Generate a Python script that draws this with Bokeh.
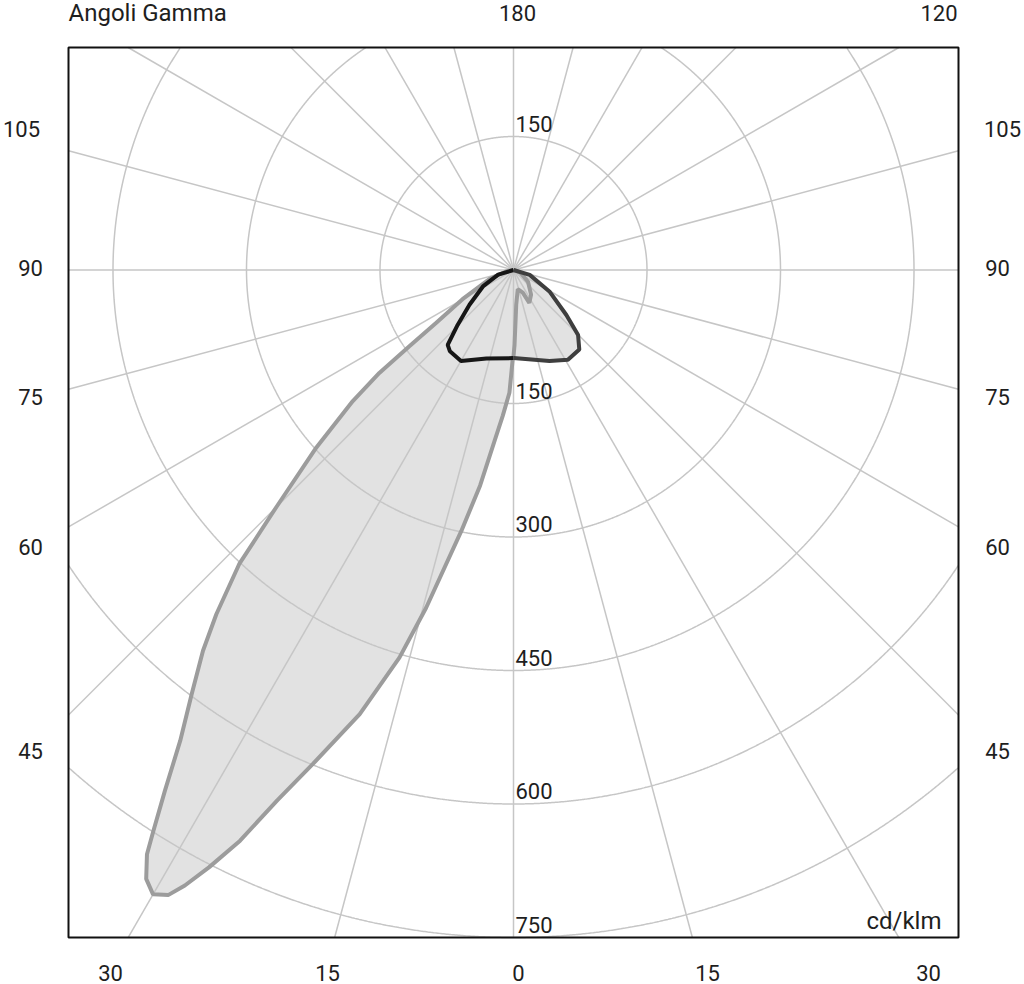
import numpy as np
from bokeh.plotting import figure
from bokeh.models import Label, Range1d
from bokeh.embed import file_html
from bokeh.resources import INLINE

# ---------------- data (gamma in degrees from nadir, intensity in cd/klm) ----------------
# grey plane, right half (gamma descending towards nadir)
gray_gamma_right = [90, 70, 51, 35.5, 25.7, 22.3, 12.6, 4.5, 0.8, 0]
gray_cd_right = [0, 8, 21, 34, 41, 27.5, 22, 39, 84, 97]
# grey plane, left half (gamma ascending from nadir)
gray_gamma_left = [0, 0.5, 1.9, 4.2, 6.3, 8.8, 11.3, 14.5, 16.4, 19.1, 22.1, 24.0, 25.6,
                   27.0, 28.1, 28.9, 30.0, 31.1, 32.1, 32.7, 33.8, 35.3, 37.2, 39.2, 40.8,
                   43.0, 45.0, 48.0, 50.8, 52.5, 53.8, 55.7, 60.2, 69.4, 80, 90]
gray_cd_left = [97, 100, 138, 164, 193, 245, 299, 392, 454, 528, 599, 652, 711,
                753, 784, 802, 810, 799, 775, 749, 704, 648, 598, 552, 511,
                452, 377, 298, 233, 190, 145, 105, 66, 29, 8, 0]

# black plane
black_gamma_right = [90, 73.3, 59.2, 49.6, 44.8, 39.6, 31.2, 21.6, 0]
black_cd_right = [0, 19, 47, 78, 103, 116, 118, 110, 99]
black_gamma_left = [0, 17, 30, 38, 41.3, 45.5, 51.7, 61.7, 73, 90]
black_cd_left = [99, 104, 118, 116, 112, 88, 63, 39, 18, 0]

# grid / ticks
circle_values = [150, 300, 450, 600, 750]
radial_step = 15
side_labels = ["105", "90", "75", "60", "45"]
bottom_labels = ["30", "15", "0", "15", "30"]
top_labels = ["180", "120"]
title_text = "Angoli Gamma"
unit_text = "cd/klm"

# ---------------- helpers ----------------
def polar_right(g, v):
    g = np.radians(np.asarray(g, float)); v = np.asarray(v, float)
    return v * np.sin(g), -v * np.cos(g)

def polar_left(g, v):
    g = np.radians(np.asarray(g, float)); v = np.asarray(v, float)
    return -v * np.sin(g), -v * np.cos(g)

W, H = 1024, 984
SCALE = 0.89           # px per cd/klm
CX, CY = 513.0, 269.5  # pixel position of the pole

def fx(px):
    return (px - CX) / SCALE

def fy(py):
    return (CY - py) / SCALE

# plotting box (in cd/klm units)
BL, BR, BB, BT = fx(68), fx(958), fy(937), fy(47)

p = figure(width=W, height=H, output_backend="svg", toolbar_location=None,
           x_range=Range1d(fx(0), fx(W)), y_range=Range1d(fy(H), fy(0)), min_border=0)
p.xaxis.visible = False
p.yaxis.visible = False
p.xgrid.visible = False
p.ygrid.visible = False
p.outline_line_color = None
p.background_fill_color = "white"
p.border_fill_color = "white"

FILL = "#e2e2e2"
GRID = "#c6c6c6"

# ---- fills ----
gxr, gyr = polar_right(gray_gamma_right, gray_cd_right)
gxl, gyl = polar_left(gray_gamma_left, gray_cd_left)
gx = np.concatenate([gxr, gxl]); gy = np.concatenate([gyr, gyl])
p.patch(gx, gy, fill_color=FILL, line_color=None)

bxr, byr = polar_right(black_gamma_right, black_cd_right)
bxl, byl = polar_left(black_gamma_left, black_cd_left)
bx = np.concatenate([bxr, bxl]); by = np.concatenate([byr, byl])
p.patch(bx, by, fill_color=FILL, line_color=None)

# ---- grid (clipped to the box) ----
ang = np.radians(np.arange(0, 360, radial_step))
dx, dy = np.sin(ang), -np.cos(ang)
with np.errstate(divide="ignore"):
    tx = np.where(np.abs(dx) > 1e-9, np.where(dx > 0, BR, -BL) / np.abs(dx), np.inf)
    ty = np.where(np.abs(dy) > 1e-9, np.where(dy > 0, BT, -BB) / np.abs(dy), np.inf)
t = np.minimum(tx, ty)
p.segment(x0=np.zeros_like(ang), y0=np.zeros_like(ang), x1=t * dx, y1=t * dy,
          line_color=GRID, line_width=1.5)

th = np.linspace(0, 2 * np.pi, 2881)
for r in circle_values:
    cx_, cy_ = r * np.cos(th), r * np.sin(th)
    out = (cx_ < BL) | (cx_ > BR) | (cy_ < BB) | (cy_ > BT)
    cx_ = np.where(out, np.nan, cx_); cy_ = np.where(out, np.nan, cy_)
    p.line(cx_, cy_, line_color=GRID, line_width=1.5)

# ---- outlines ----
p.line(gx, gy, line_color="#9c9c9c", line_width=4)
p.line(bxl, byl, line_color="#161616", line_width=4)
p.line(bxr, byr, line_color="#3e3e3e", line_width=4)

# ---- frame ----
p.quad(left=[BL], right=[BR], bottom=[BB], top=[BT], fill_color=None,
       line_color="#111111", line_width=2)

# ---- labels ----
FONT = "Roboto"
TXT = "#1e1e1e"

def add(text, px, py, align="center", size="22px"):
    p.add_layout(Label(x=fx(px), y=fy(py), text=text, text_align=align, text_baseline="middle",
                       text_font=FONT, text_font_size=size, text_color=TXT))

add(title_text, 68, 12, align="left", size="24px")
add(top_labels[0], 517, 12)
add(top_labels[1], 957, 12, align="right")

side_y = [128.5, 267.5, 396.5, 546.7, 750]
for tx_, yy in zip(side_labels, side_y):
    add(tx_, 21 if len(tx_) == 3 else 30, yy)
    add(tx_, 1002 if len(tx_) == 3 else 997, yy)

bottom_x = [110, 327, 518, 707, 928]
for tx_, xx in zip(bottom_labels, bottom_x):
    add(tx_, xx, 972)

add(unit_text, 941, 920, align="right", size="24px")

for v in circle_values:
    p.add_layout(Label(x=2 / SCALE, y=-v + 13 / SCALE, text=str(v), text_align="left",
                       text_baseline="middle", text_font=FONT, text_font_size="22px",
                       text_color=TXT))
p.add_layout(Label(x=2 / SCALE, y=circle_values[0] + 13 / SCALE, text=str(circle_values[0]),
                   text_align="left", text_baseline="middle", text_font=FONT,
                   text_font_size="22px", text_color=TXT))

open("out.html", "w").write(file_html(p, INLINE))
